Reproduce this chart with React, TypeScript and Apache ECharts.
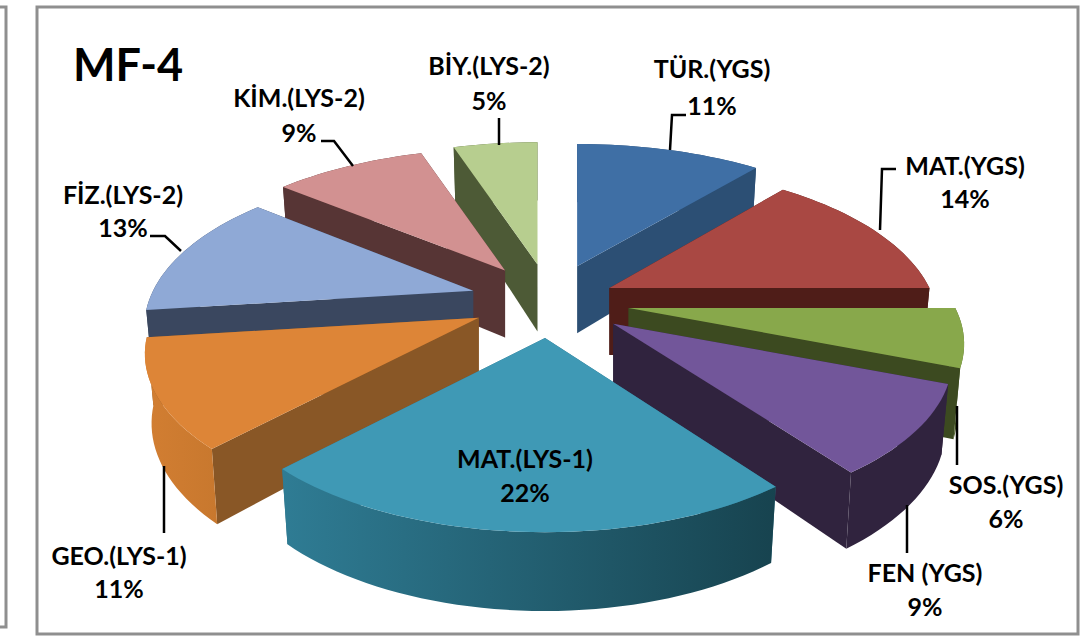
import React, { useEffect, useRef } from "react";
import * as echarts from "echarts";

const categories = ["TÜR.(YGS)", "MAT.(YGS)", "SOS.(YGS)", "FEN (YGS)", "MAT.(LYS-1)", "GEO.(LYS-1)", "FİZ.(LYS-2)", "KİM.(LYS-2)", "BİY.(LYS-2)"];
const values = [11, 14, 6, 9, 22, 11, 13, 9, 5];

// per-slice styling (Excel-like point explosion, colours)
const explosion = [1, 0.82, 1, 1, 1, 1, 1, 1, 1];
const reach = [1, 0.97, 0.99, 1, 0.97, 0.985, 0.97, 1, 1];
const topColors = ["#3F6FA5", "#A94843", "#88A84B", "#72569A", "#3F99B5", "#DD8537", "#8FA9D6", "#D29191", "#B7CE8F"];
const radialWall = ["#2C4F74", "#4F1D18", "#3C4A20", "#30233E", "#2F7288", "#895726", "#3A475F", "#573535", "#4D5A36"];
const outerWallA = ["#2C4F74", "#4F1D18", "#4F6329", "#30233E", "#2F7C94", "#D27E32", "#3A475F", "#573535", "#4D5A36"];
const outerWallB = ["#2C4F74", "#4F1D18", "#4F6329", "#30233E", "#17434F", "#C8782E", "#3A475F", "#573535", "#4D5A36"];

// label layout: [centre x, line-1 y, line-2 y], leader polyline
const labelPos = [[712, 68, 105], [965, 165, 198], [1006, 484, 518], [925, 572, 606], [525, 458, 492], [119, 555, 588], [123, 194, 227], [299, 97, 132], [489, 65, 100]];
const leaders: number[][][] = [
  [[670, 150], [672, 115], [686, 115]],
  [[880, 230], [882, 169], [896, 169]],
  [[957, 406], [957, 465]],
  [[907, 505], [907, 553]],
  [],
  [[164, 466], [164, 533]],
  [[150, 236], [165, 236], [181, 251]],
  [[321, 141], [334, 141], [353, 166]],
  [[499, 118], [499, 145]],
];

const FONT = "Lato, 'Open Sans', sans-serif";
const CX = 550, CY = 301;      // pie centre on the page
const EX = 80, EY = 37;        // explosion offsets
const A = 330, B = 150, P = 0.228; // perspective projection
const THICK = 67, TP = 0.15, BOTTOM_SCALE = 0.98;

const total = values.reduce((a, b) => a + b, 0);
const deg = Math.PI / 180;

function geometry(i: number) {
  const before = values.slice(0, i).reduce((a, b) => a + b, 0);
  const t0 = (before / total) * 360 * deg;
  const t1 = ((before + values[i]) / total) * 360 * deg;
  const mid = (t0 + t1) / 2;
  const ax = CX + EX * explosion[i] * Math.sin(mid);
  const ay = CY - EY * explosion[i] * Math.cos(mid);
  const proj = (t: number, lower: boolean) => {
    const d = 1 + P * Math.cos(t);
    const dx = (A * reach[i] * Math.sin(t)) / d;
    const dy = (-B * Math.cos(t)) / d;
    if (!lower) return [ax + dx, ay + dy];
    return [ax + dx * BOTTOM_SCALE, ay + dy + THICK / (1 + TP * Math.cos(t))];
  };
  const steps = Math.max(4, Math.ceil(values[i] * 2));
  const ts: number[] = [];
  for (let k = 0; k <= steps; k++) ts.push(t0 + ((t1 - t0) * k) / steps);
  return { ax, ay, ts, proj };
}

function renderSlice(_p: any, api: any) {
  const i = api.value(0) as number;
  const { ax, ay, ts, proj } = geometry(i);
  const apexTop = [ax, ay];
  const apexBot = [ax, ay + THICK];
  const topArc = ts.map((t) => proj(t, false));
  const botArc = ts.map((t) => proj(t, true));
  const children: any[] = [];
  const startWall = [apexTop, topArc[0], botArc[0], apexBot];
  const endWall = [apexTop, topArc[topArc.length - 1], botArc[botArc.length - 1], apexBot];
  const outerWall = [...topArc, ...botArc.slice().reverse()];
  const meanY = (pts: number[][]) => pts.reduce((s, q) => s + q[1], 0) / pts.length;
  const walls: { pts: number[][]; fill: any }[] = [
    { pts: startWall, fill: radialWall[i] },
    { pts: endWall, fill: radialWall[i] },
    {
      pts: outerWall,
      fill: {
        type: "linear", x: 0, y: 0, x2: 1, y2: 0,
        colorStops: [
          { offset: 0, color: outerWallA[i] },
          { offset: 1, color: outerWallB[i] },
        ],
      },
    },
  ];
  walls.sort((a, b) => meanY(a.pts) - meanY(b.pts));
  walls.forEach((w) => {
    children.push({ type: "polygon", shape: { points: w.pts }, style: { fill: w.fill, stroke: "none" } });
  });
  children.push({ type: "polygon", shape: { points: [apexTop, ...topArc] }, style: { fill: topColors[i], stroke: "none" } });
  return { type: "group", children };
}

function renderLabel(_p: any, api: any) {
  const i = api.value(0) as number;
  const [x, y1, y2] = labelPos[i];
  const text = (t: string, y: number) => ({
    type: "text",
    x,
    y,
    style: { text: t, fill: "#000", font: `bold 25px ${FONT}`, textAlign: "center", textVerticalAlign: "middle" },
  });
  const children: any[] = [text(categories[i], y1), text(`${values[i]}%`, y2)];
  if (leaders[i].length) {
    children.push({ type: "polyline", shape: { points: leaders[i] }, style: { stroke: "#000", lineWidth: 2.5, fill: "none" } });
  }
  return { type: "group", children };
}

export default function App() {
  const ref = useRef<HTMLDivElement>(null);
  useEffect(() => {
    const chart = echarts.init(ref.current!, undefined, { renderer: "svg" });
    // painter's order: farthest apex first
    const order = values.map((_, i) => i).sort((a, b) => geometry(a).ay - geometry(b).ay);
    chart.setOption({
      animation: false,
      backgroundColor: "#fff",
      graphic: [
        { type: "rect", shape: { x: 37, y: 7, width: 1041, height: 627 }, style: { fill: "#fff", stroke: "#8F8F8F", lineWidth: 3 }, z: -1 },
        { type: "polyline", shape: { points: [[0, 7], [6, 7], [6, 627], [0, 627]] }, style: { fill: "none", stroke: "#8F8F8F", lineWidth: 3 }, z: -1 },
        { type: "text", x: 128, y: 64, style: { text: "MF-4", fill: "#000", font: `bold 45px ${FONT}`, textAlign: "center", textVerticalAlign: "middle" }, z: 10 },
      ],
      series: [
        {
          type: "custom", coordinateSystem: "none", renderItem: renderSlice, silent: true, z: 2,
          data: order.map((i) => [i, values[i]]),
          encode: { x: -1, y: -1 },
        },
        {
          type: "custom", coordinateSystem: "none", renderItem: renderLabel, silent: true, z: 3,
          data: categories.map((c, i) => [i, values[i]]),
          encode: { x: -1, y: -1 },
        },
      ],
    });
    return () => chart.dispose();
  }, []);
  return <div ref={ref} style={{ position: "fixed", left: 0, top: 0, width: 1084, height: 636 }} />;
}
